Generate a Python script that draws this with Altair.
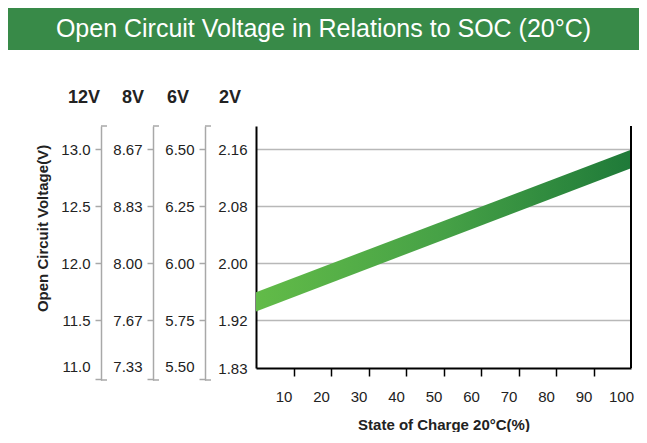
import altair as alt
import pandas as pd

# ---------------- data ----------------
title_text = "Open Circuit Voltage in Relations to SOC (20°C)"
y_title = "Open Circuit Voltage(V)"
x_title = "State of Charge 20°C(%)"
headers = ["12V", "8V", "6V", "2V"]
labels_12v = ["13.0", "12.5", "12.0", "11.5", "11.0"]
labels_8v = ["8.67", "8.83", "8.00", "7.67", "7.33"]
labels_6v = ["6.50", "6.25", "6.00", "5.75", "5.50"]
labels_2v = ["2.16", "2.08", "2.00", "1.92", "1.83"]
grid_2v = [2.16, 2.08, 2.00, 1.92]
x_ticks = [10, 20, 30, 40, 50, 60, 70, 80, 90, 100]
soc = [0, 100]
band_low = [1.932, 2.133]
band_high = [1.959, 2.159]

# ---------------- styles / layout ----------------
GREEN = "#388a48"
GRAY = "#a8a8a8"
GRID = "#b8b8b8"
TXT = "#222222"
FONT = "Liberation Sans"

PX_PER_V = 57 / 0.08
MAIN_H = 242
SIDE_H = 254
Y_TOP = 2.16 + 23 / PX_PER_V
MAIN_BOT = Y_TOP - MAIN_H / PX_PER_V
SIDE_BOT = Y_TOP - SIDE_H / PX_PER_V
SIDE_LAST_TICK = Y_TOP - 253 / PX_PER_V

main_ticks = grid_2v + [MAIN_BOT]
side_ticks = grid_2v + [SIDE_LAST_TICK]


def label_expr(labels):
    js = "[" + ",".join("'%s'" % l for l in reversed(labels)) + "]"
    return js + "[round((datum.value - 1.82) / 0.08)]"


def header(text, dx):
    return alt.TitleParams(text=text, anchor="start", frame="group", dx=dx, offset=18,
                           fontSize=18, fontWeight="bold", font=FONT, color=TXT)


def side_panel(labels, head, dx, width, first=False):
    axis_kw = dict(values=side_ticks, labelExpr=label_expr(labels),
                   domainColor=GRAY, domainWidth=1.5, tickColor=GRAY, tickWidth=1.5,
                   tickSize=6, labelPadding=5, grid=False,
                   labelOffset={"condition": {"test": "datum.value < 1.85", "value": -13}, "value": 0})
    if first:
        axis_kw.update(title=y_title, titleY=102, titlePadding=10)
    else:
        axis_kw.update(title=None)
    caps = pd.DataFrame({"y": [Y_TOP, SIDE_BOT]})
    return alt.Chart(caps).mark_rule(color=GRAY, strokeWidth=1.5).encode(
        y=alt.Y("y:Q", scale=alt.Scale(domain=[SIDE_BOT, Y_TOP], nice=False, zero=False),
                axis=alt.Axis(**axis_kw)),
        x=alt.value(0), x2=alt.value(6),
    ).properties(width=width, height=SIDE_H, title=header(head, dx))


spacer = alt.Chart(pd.DataFrame({"a": [0]})).mark_point(opacity=0).encode(
    x=alt.X("a:Q", axis=None), y=alt.Y("a:Q", axis=None)
).properties(width=93, height=10)

p12 = side_panel(labels_12v, headers[0], -33, 52, first=True)
p8 = side_panel(labels_8v, headers[1], -31, 52)
p6 = side_panel(labels_6v, headers[2], -38, 51)

band_df = pd.DataFrame({"soc": soc, "lo": band_low, "hi": band_high})
gradient = alt.Gradient(
    gradient="linear",
    stops=[alt.GradientStop(offset=0, color="#62bb48"),
           alt.GradientStop(offset=0.5, color="#46a146"),
           alt.GradientStop(offset=1, color="#1f7a39")],
    x1=0, x2=1, y1=0, y2=0,
)
x_scale = alt.Scale(domain=[0, 100], nice=False, zero=False)
y_scale = alt.Scale(domain=[MAIN_BOT, Y_TOP], nice=False, zero=False)

x_axis = alt.Axis(values=x_ticks, title=x_title, domainColor="black", domainWidth=2,
                  tickColor="black", tickWidth=1.5, tickSize=8, labelPadding=13,
                  labelOffset=-10, labelFlush=False, grid=False, titlePadding=13,
                  tickOpacity={"condition": {"test": "datum.value >= 100", "value": 0}, "value": 1})
y_axis = alt.Axis(values=main_ticks, labelExpr=label_expr(labels_2v), ticks=False,
                  labelPadding=9, domainColor="black", domainWidth=2, grid=True,
                  gridColor=GRID, gridWidth=1.5, title=None,
                  gridOpacity={"condition": {"test": "datum.value < 1.9", "value": 0}, "value": 1})

band = alt.Chart(band_df).mark_area(color=gradient).encode(
    x=alt.X("soc:Q", scale=x_scale, axis=x_axis),
    y=alt.Y("lo:Q", scale=y_scale, axis=y_axis),
    y2="hi:Q",
)
right_border = alt.Chart(pd.DataFrame({"soc": [100]})).mark_rule(
    color="black", strokeWidth=2).encode(x=alt.X("soc:Q", scale=x_scale))

main = alt.layer(band, right_border).properties(
    width=375, height=MAIN_H, title=header(headers[3], -37))

body = alt.hconcat(spacer, p12, p8, p6, main, spacing=0, bounds="flush")

BW, BH = 631, 42
banner = alt.Chart(pd.DataFrame({"t": [title_text]})).mark_text(
    color="white", fontSize=25, font=FONT, align="center", baseline="middle"
).encode(text="t:N", x=alt.value(BW / 2), y=alt.value(BH / 2)).properties(
    width=BW, height=BH, view=alt.ViewBackground(fill=GREEN, strokeWidth=0))

chart = alt.vconcat(banner, body, spacing=39).properties(padding=0).configure_view(
    strokeWidth=0
).configure_axis(
    labelFont=FONT, labelFontSize=15, labelColor=TXT,
    titleFont=FONT, titleFontSize=15, titleFontWeight="bold", titleColor=TXT,
)

chart.save("out.html", embed_options={"renderer": "svg", "actions": False})
